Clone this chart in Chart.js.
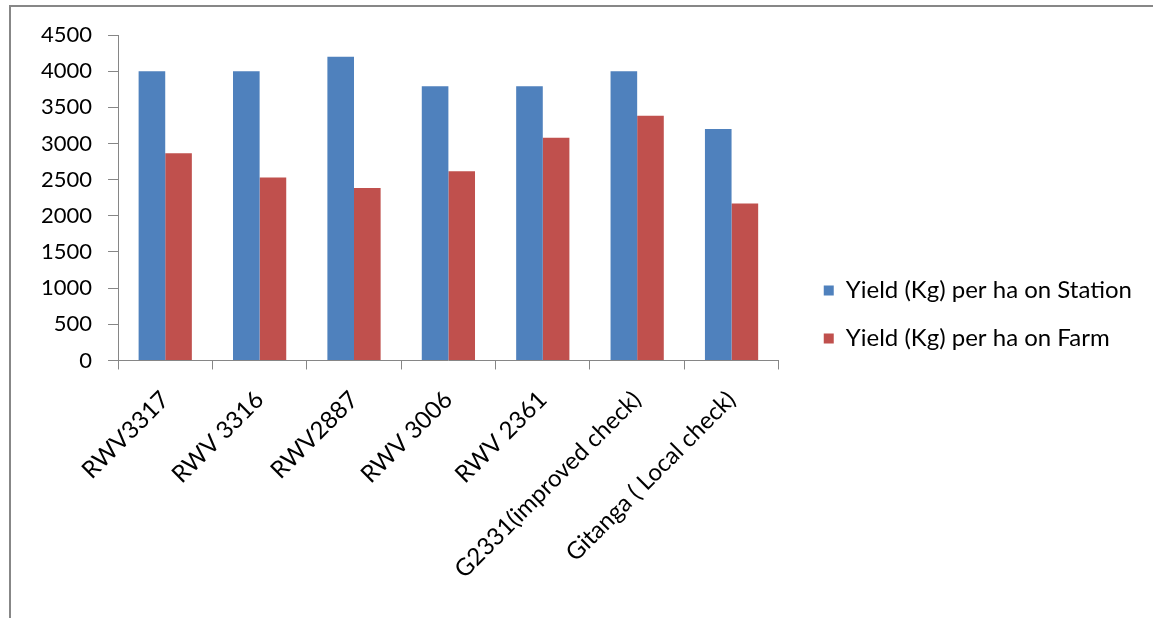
<!DOCTYPE html>
<html>
<head>
<meta charset="utf-8">
<script src="https://cdn.jsdelivr.net/npm/chart.js@4.4.1/dist/chart.umd.min.js"></script>
<style>
  html, body { margin: 0; padding: 0; background: #ffffff; overflow: hidden; }
  #wrap { position: relative; width: 1153px; height: 618px; }
  #frame {
    position: absolute; left: 9px; top: 5px; width: 1300px; height: 800px;
    border-left: 2px solid #878787; border-top: 2px solid #878787;
    pointer-events: none;
  }
  canvas { position: absolute; left: 0; top: 0; }
</style>
</head>
<body>
<div id="wrap">
  <canvas id="chart" width="1153" height="618"></canvas>
  <div id="frame"></div>
</div>
<script>
// Bean varieties compared
const varieties = [
  'RWV3317',
  'RWV 3316',
  'RWV2887',
  'RWV 3006',
  'RWV 2361',
  'G2331(improved check)',
  'Gitanga ( Local check)'
];

// Yield in kg per hectare
const stationYield = [4000, 4000, 4200, 3790, 3790, 4000, 3200];
const farmYield    = [2865, 2530, 2385, 2615, 3080, 3385, 2170];

const seriesNames = ['Yield (Kg) per ha on Station', 'Yield (Kg) per ha on Farm'];

// Value axis
const yMin = 0;
const yMax = 4500;
const yStep = 500;

const FONT = 'Lato, Carlito, Calibri, sans-serif';
const AXIS_GREY = '#868686';

// invisible axis used only to reserve space around the plot
function spacer(axis, position, size) {
  return {
    type: 'linear',
    axis: axis,
    position: position,
    display: true,
    grid: { display: false },
    border: { display: false },
    ticks: { display: false },
    afterFit: (scale) => {
      if (axis === 'y') scale.width = size; else scale.height = size;
    }
  };
}

function draw() {
  new Chart(document.getElementById('chart'), {
    type: 'bar',
    data: {
      labels: varieties,
      datasets: [
        {
          label: seriesNames[0],
          data: stationYield,
          backgroundColor: '#4F81BD',
          categoryPercentage: 0.564,
          barPercentage: 1.0
        },
        {
          label: seriesNames[1],
          data: farmYield,
          backgroundColor: '#C0504D',
          categoryPercentage: 0.564,
          barPercentage: 1.0
        }
      ]
    },
    options: {
      responsive: false,
      animation: false,
      devicePixelRatio: 1,
      layout: { padding: { left: 25, top: 29, right: 11, bottom: 18 } },
      plugins: {
        tooltip: { enabled: false },
        legend: {
          position: 'right',
          align: 'center',
          maxWidth: 420,
          labels: {
            boxWidth: 10,
            boxHeight: 10,
            padding: 24,
            color: '#000',
            font: { family: FONT, size: 24 }
          }
        }
      },
      scales: {
        x: {
          grid: {
            drawOnChartArea: false,
            drawTicks: true,
            tickLength: 9,
            color: AXIS_GREY,
            offset: true
          },
          border: { color: AXIS_GREY, width: 1 },
          ticks: {
            autoSkip: false,
            minRotation: 45,
            maxRotation: 45,
            padding: 16,
            color: '#000',
            font: { family: FONT, size: 24 }
          }
        },
        y: {
          min: yMin,
          max: yMax,
          grid: {
            drawOnChartArea: false,
            drawTicks: true,
            tickLength: 10,
            color: AXIS_GREY
          },
          border: { color: AXIS_GREY, width: 1 },
          ticks: {
            stepSize: yStep,
            padding: 16,
            color: '#000',
            font: { family: FONT, size: 22 },
            callback: (v) => String(v)
          }
        },
        gapRight: spacer('y', 'right', 21),
        gapTop: spacer('x', 'top', 6)
      }
    }
  });
}

if (document.fonts && document.fonts.load) {
  Promise.all([
    document.fonts.load('24px Lato'),
    document.fonts.load('22px Lato')
  ]).then(draw, draw);
} else {
  draw();
}
</script>
</body>
</html>
